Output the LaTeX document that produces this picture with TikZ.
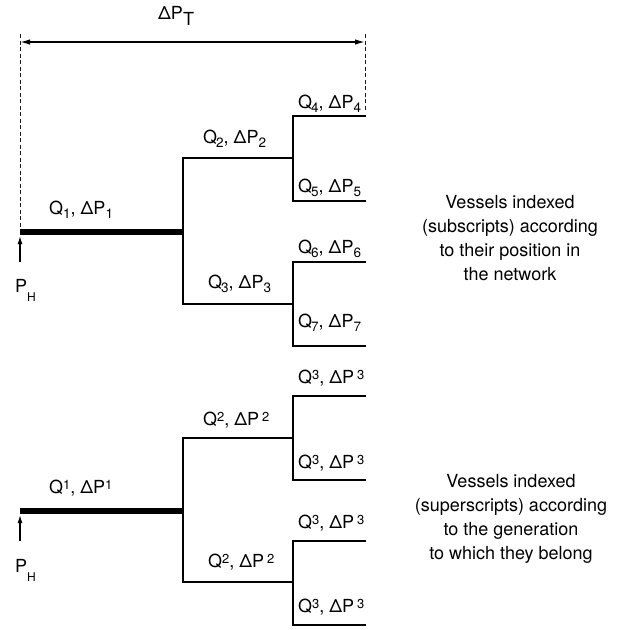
\documentclass[tikz,border=0pt]{standalone}
\usepackage{fontspec}
\setmainfont{TeX Gyre Heros}
\usetikzlibrary{arrows.meta}
% lowered and raised indices for the vessel labels
\newcommand\lo[1]{\raisebox{-0.24em}{\fontsize{13.5}{13.5}\selectfont #1}}
\newcommand\hi[1]{\raisebox{0.22em}{\fontsize{13}{13}\selectfont #1}}
\newcommand\hin{\raisebox{-9.5pt}{\fontsize{12}{12}\selectfont H}}
\tikzset{
  lbl/.style={anchor=base west, inner sep=0pt, font=\fontsize{18}{22}\selectfont},
  note/.style={anchor=north, inner sep=0pt, align=center, font=\fontsize{18}{24}\selectfont},
  trunk/.style={line width=5.2pt},
  gen1/.style={line width=2.6pt, line join=miter},
  gen2/.style={line width=1.5pt, line join=miter},
  guide/.style={line width=1pt, black!90, dash pattern=on 4pt off 2.5pt},
  inflow/.style={line width=1.3pt, -{Latex[length=8pt,width=5pt]}},
  span/.style={line width=1.5pt, {Latex[length=10pt,width=5.5pt]}-{Latex[length=10pt,width=5.5pt]}}
}
\begin{document}
\begin{tikzpicture}[x=1pt,y=-1pt]
\useasboundingbox (0,0) rectangle (630,630);

% ---------- upper network: vessels indexed by position ----------
\coordinate (inA) at (20,232);
\coordinate (jA) at (183,232);
\coordinate (jAu) at (183,158);
\coordinate (jAd) at (183,304);
\coordinate (kAu) at (293,158);
\coordinate (kAd) at (293,304);
\coordinate (kAu1) at (293,116);
\coordinate (kAu2) at (293,201);
\coordinate (kAd1) at (293,262);
\coordinate (kAd2) at (293,346);
\coordinate (eA4) at (366,116);
\coordinate (eA5) at (366,201);
\coordinate (eA6) at (366,262);
\coordinate (eA7) at (366,346);
\coordinate (srcA) at (20,262);
\coordinate (dL) at (20,34);
\coordinate (dR) at (365,34);
\coordinate (dRb) at (365,111);
\coordinate (aL) at (20,42);
\coordinate (aR) at (365,42);

\draw[guide] (dL) -- (inA);
\draw[guide] (dR) -- (dRb);
\draw[span] (aL) -- (aR);
\node[lbl] (dpt) at (158,19.5) {ΔP\raisebox{-0.32em}{T}};

\draw[trunk] (inA) -- (jA);
\draw[gen1] (kAu) -- (jAu) -- (jAd) -- (kAd);
\draw[gen2] (eA4) -- (kAu1) -- (kAu2) -- (eA5);
\draw[gen2] (eA6) -- (kAd1) -- (kAd2) -- (eA7);
\draw[inflow] (srcA) -- ([yshift=-4pt]inA);

\node[lbl] (phA) at (15,292) {P\hin};
\node[lbl] (q1) at (49,214) {Q\lo{1}, ΔP\lo{1}};
\node[lbl] (q2) at (203,143) {Q\kern-1pt\lo{2}, ΔP\lo{2}};
\node[lbl] (q3) at (208,288) {Q\kern-1pt\lo{3}, ΔP\lo{3}};
\node[lbl] (q4) at (298,108) {Q\kern-1pt\lo{4}, ΔP\lo{4}};
\node[lbl] (q5) at (298,192) {Q\kern-1pt\lo{5}, ΔP\lo{5}};
\node[lbl] (q6) at (298,253) {Q\kern-1pt\lo{6}, ΔP\lo{6}};
\node[lbl] (q7) at (298,327) {Q\kern-1pt\lo{7}, ΔP\lo{7}};

\node[note] (noteA) at (510,195) {Vessels indexed\\(subscripts) according\\to their position in\\the network};

% ---------- lower network: vessels indexed by generation ----------
\coordinate (inB) at (20,511);
\coordinate (jB) at (183,511);
\coordinate (jBu) at (183,438);
\coordinate (jBd) at (183,582);
\coordinate (kBu) at (293,438);
\coordinate (kBd) at (293,582);
\coordinate (kBu1) at (293,396);
\coordinate (kBu2) at (293,480);
\coordinate (kBd1) at (293,541);
\coordinate (kBd2) at (293,625);
\coordinate (eB1) at (366,396);
\coordinate (eB2) at (366,480);
\coordinate (eB3) at (366,541);
\coordinate (eB4) at (366,625);
\coordinate (srcB) at (20,541);

\draw[trunk] (inB) -- (jB);
\draw[gen1] (kBu) -- (jBu) -- (jBd) -- (kBd);
\draw[gen2] (eB1) -- (kBu1) -- (kBu2) -- (eB2);
\draw[gen2] (eB3) -- (kBd1) -- (kBd2) -- (eB4);
\draw[inflow] (srcB) -- ([yshift=-4pt]inB);

\node[lbl] (phB) at (15,572) {P\hin};
\node[lbl] (g1) at (49,493) {Q\hi{1}, ΔP\hi{1}};
\node[lbl] (g2u) at (203,425) {Q\hi{2}, ΔP\,\hi{2}};
\node[lbl] (g2d) at (208,567) {Q\hi{2}, ΔP\,\hi{2}};
\node[lbl] (g3a) at (298,383) {Q\hi{3}, ΔP\,\hi{3}};
\node[lbl] (g3b) at (298,468) {Q\hi{3}, ΔP\,\hi{3}};
\node[lbl] (g3c) at (298,528) {Q\hi{3}, ΔP\,\hi{3}};
\node[lbl] (g3d) at (298,612) {Q\hi{3}, ΔP\,\hi{3}};

\node[note] (noteB) at (511,474) {Vessels indexed\\(superscripts) according\\to the generation\\to which they belong};
\end{tikzpicture}
\end{document}
